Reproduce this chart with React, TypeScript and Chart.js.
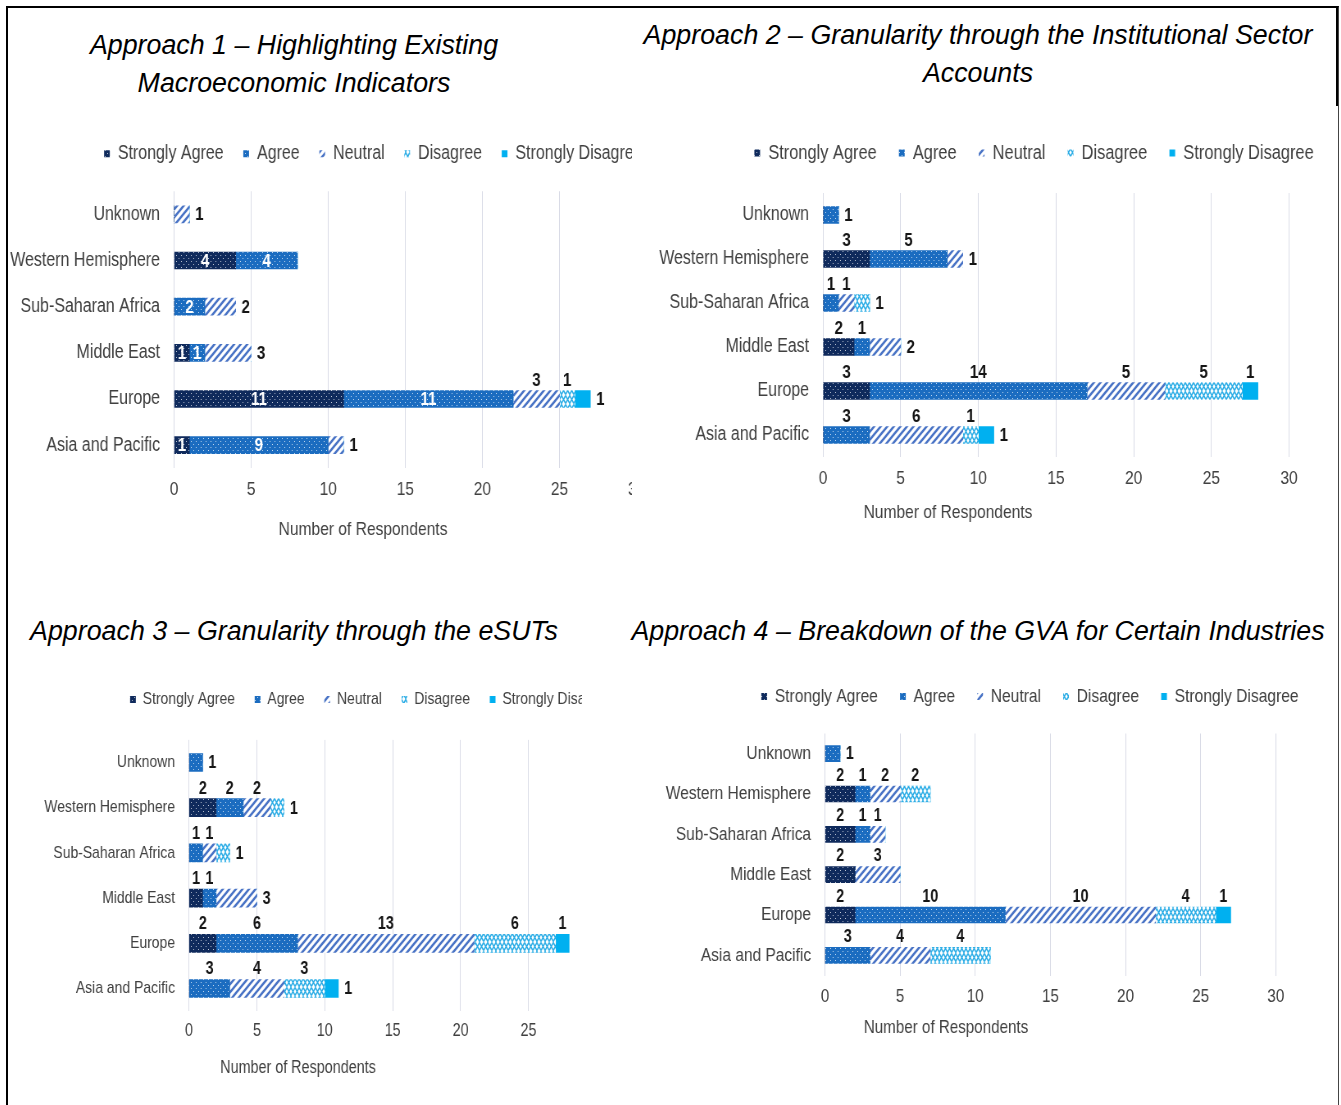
import React, { useEffect, useRef } from "react";
import { Chart, registerables } from "chart.js";
Chart.register(...registerables);

const FONT = "'Liberation Sans', Arial, sans-serif";
// the chart texts use a narrow face; Arial Narrow is emulated by drawing each chart
// canvas wider and showing it horizontally condensed by this factor
const S = 0.82;

// ---------- data ----------
const categories = ["Unknown", "Western Hemisphere", "Sub-Saharan Africa", "Middle East", "Europe", "Asia and Pacific"];
const seriesNames = ["Strongly Agree", "Agree", "Neutral", "Disagree", "Strongly Disagree"];
const xTickStep = 5;
const xMax = 30;
const axisTitle = "Number of Respondents";

// Approach 1
const a1StronglyAgree = [0, 4, 0, 1, 11, 1];
const a1Agree = [0, 4, 2, 1, 11, 9];
const a1Neutral = [1, 0, 2, 3, 3, 1];
const a1Disagree = [0, 0, 0, 0, 1, 0];
const a1StronglyDisagree = [0, 0, 0, 0, 1, 0];

// Approach 2
const a2StronglyAgree = [0, 3, 0, 2, 3, 0];
const a2Agree = [1, 5, 1, 1, 14, 3];
const a2Neutral = [0, 1, 1, 2, 5, 6];
const a2Disagree = [0, 0, 1, 0, 5, 1];
const a2StronglyDisagree = [0, 0, 0, 0, 1, 1];

// Approach 3
const a3StronglyAgree = [0, 2, 0, 1, 2, 0];
const a3Agree = [1, 2, 1, 1, 6, 3];
const a3Neutral = [0, 2, 1, 3, 13, 4];
const a3Disagree = [0, 1, 1, 0, 6, 3];
const a3StronglyDisagree = [0, 0, 0, 0, 1, 1];

// Approach 4
const a4StronglyAgree = [0, 2, 2, 2, 2, 0];
const a4Agree = [1, 1, 1, 0, 10, 3];
const a4Neutral = [0, 2, 1, 3, 10, 4];
const a4Disagree = [0, 2, 0, 0, 4, 4];
const a4StronglyDisagree = [0, 0, 0, 0, 1, 0];

const titles = [
  ["Approach 1 \u2013 Highlighting Existing", "Macroeconomic Indicators"],
  ["Approach 2 \u2013 Granularity through the Institutional Sector", "Accounts"],
  ["Approach 3 \u2013 Granularity through the eSUTs"],
  ["Approach 4 \u2013 Breakdown of the GVA for Certain Industries"],
];

// ---------- patterns ----------
function tile(w: number, h: number, draw: (g: CanvasRenderingContext2D) => void) {
  const c = document.createElement("canvas");
  c.width = w;
  c.height = h;
  const g = c.getContext("2d")!;
  draw(g);
  return g.createPattern(c, "repeat")!;
}
function dots(bg: string) {
  return tile(6, 6, (g) => {
    g.fillStyle = bg;
    g.fillRect(0, 0, 6, 6);
    g.fillStyle = "rgba(255,255,255,0.75)";
    g.fillRect(1, 1, 1, 1);
    g.fillRect(4, 4, 1, 1);
  });
}
function stripes(col: string) {
  const s = 8;
  return tile(s, s, (g) => {
    g.fillStyle = "#ffffff";
    g.fillRect(0, 0, s, s);
    g.strokeStyle = col;
    g.lineWidth = 2.6;
    g.beginPath();
    g.moveTo(-1, s + 1);
    g.lineTo(s + 1, -1);
    g.moveTo(-1, 1);
    g.lineTo(1, -1);
    g.moveTo(s - 1, s + 1);
    g.lineTo(s + 1, s - 1);
    g.stroke();
  });
}
function zigzag(col: string) {
  return tile(10, 9, (g) => {
    g.fillStyle = "#ffffff";
    g.fillRect(0, 0, 10, 9);
    g.strokeStyle = col;
    g.lineWidth = 1.5;
    g.beginPath();
    g.moveTo(0, 0.5);
    g.lineTo(5, 8.5);
    g.lineTo(10, 0.5);
    g.moveTo(0, 8.5);
    g.lineTo(5, 0.5);
    g.lineTo(10, 8.5);
    g.stroke();
  });
}

// ---------- plugins ----------
const captionPlugin = {
  id: "caption",
  afterDraw(chart: any, _a: any, opts: any) {
    if (!opts || !opts.text) return;
    const ctx = chart.ctx;
    ctx.save();
    ctx.font = `${opts.size}px ${FONT}`;
    ctx.fillStyle = opts.color;
    ctx.textAlign = "center";
    ctx.textBaseline = "middle";
    ctx.fillText(opts.text, opts.x, opts.y);
    ctx.restore();
  },
};

const segLabelsPlugin = {
  id: "segLabels",
  afterDatasetsDraw(chart: any, _a: any, opts: any) {
    const ctx = chart.ctx;
    const dsets = chart.data.datasets;
    const n = chart.data.labels.length;
    ctx.save();
    ctx.font = `bold ${opts.size}px ${FONT}`;
    ctx.textBaseline = "middle";
    for (let j = 0; j < n; j++) {
      const vals: number[] = dsets.map((d: any) => d.data[j] as number);
      const nonzero = vals.map((v, i) => (v > 0 ? i : -1)).filter((i) => i >= 0);
      const lastIdx = nonzero[nonzero.length - 1];
      const total = vals.reduce((a, b) => a + b, 0);
      let rightOk = true;
      if (opts.lastRule === "short") rightOk = total < 20;
      if (opts.lastRule === "single") rightOk = nonzero.length === 1;
      nonzero.forEach((i) => {
        const el = chart.getDatasetMeta(i).data[j];
        const { x, y, base, height } = el.getProps(["x", "y", "base", "height"], true);
        const text = String(vals[i]);
        if (opts.inside && opts.inside.includes(i)) {
          ctx.fillStyle = "#ffffff";
          ctx.textAlign = "center";
          ctx.fillText(text, (x + base) / 2, y + 1);
        } else if (i === lastIdx && rightOk) {
          ctx.fillStyle = "#151515";
          ctx.textAlign = "left";
          ctx.fillText(text, x + 7, y + 1);
        } else {
          ctx.fillStyle = "#151515";
          ctx.textAlign = "center";
          ctx.fillText(text, (x + base) / 2, y - height / 2 - 10);
        }
      });
    }
    ctx.restore();
  },
};

// ---------- layout (page pixels) ----------
type Layout = {
  clip: { l: number; t: number; w: number; h: number };
  cx: number;
  legendCX: number;
  legendCY: number;
  chartL: number;
  chartR: number;
  chartT: number;
  chartB: number;
  capX: number;
  capY: number;
  legendFont: number;
  legendPad: number;
  catFont: number;
  tickFont: number;
  labelFont: number;
  bar: number;
  xH: number;
  inside?: number[];
  lastRule: string;
};

function build(L: Layout) {
  const Wp = 2 * (L.legendCX - L.cx);
  const pT = 4;
  const cy = L.legendCY - L.legendPad - L.legendFont / 2 - pT;
  const legendH = L.legendFont + L.legendPad + 10;
  const gap = L.chartT - cy - pT - legendH;
  const H = Math.round(L.chartB + L.xH + 60 - cy);
  return {
    ...L,
    cy,
    W: Math.round(Wp / S),
    H,
    pT,
    gap,
    yW: (L.chartL - L.cx) / S,
    rW: (L.cx + Wp - L.chartR) / S,
    capXi: (L.capX - L.cx) / S,
    capYi: L.capY - cy,
    pB: H - (L.chartB - cy) - L.xH,
  };
}

function Panel({ series, L }: { series: number[][]; L: Layout }) {
  const ref = useRef<HTMLCanvasElement>(null);
  const c = build(L);
  useEffect(() => {
    const ctx = ref.current!.getContext("2d")!;
    const fills = [dots("#0f2a5c"), dots("#1b6cc0"), stripes("#4a74c6"), zigzag("#2eaee6"), "#00b0f0"];
    const chart = new Chart(ctx, {
      type: "bar",
      data: {
        labels: categories,
        datasets: seriesNames.map((name, i) => ({
          label: name,
          data: series[i],
          backgroundColor: fills[i] as any,
          borderWidth: 0,
          barThickness: c.bar,
          xAxisID: "x",
          yAxisID: "y",
        })),
      },
      options: {
        indexAxis: "y",
        animation: false,
        responsive: false,
        devicePixelRatio: 1,
        layout: { padding: { left: 0, right: 0, top: c.pT, bottom: c.pB } },
        scales: {
          x: {
            type: "linear",
            position: "bottom",
            stacked: true,
            min: 0,
            max: xMax,
            ticks: { stepSize: xTickStep, color: "#404040", font: { family: FONT, size: c.tickFont }, padding: 10 },
            grid: { color: "#d9dbe6", drawTicks: false },
            border: { display: false },
            afterFit: (s: any) => {
              s.height = c.xH;
            },
          },
          xTop: {
            type: "linear",
            axis: "x",
            position: "top",
            display: true,
            ticks: { display: false },
            grid: { display: false, drawTicks: false },
            border: { display: false },
            afterFit: (s: any) => {
              s.height = c.gap;
            },
          },
          y: {
            type: "category",
            stacked: true,
            ticks: { color: "#404040", font: { family: FONT, size: c.catFont }, padding: 17 },
            grid: { display: false, drawTicks: false },
            border: { display: false },
            afterFit: (s: any) => {
              s.width = c.yW;
            },
          },
          yRight: {
            type: "linear",
            axis: "y",
            position: "right",
            display: true,
            ticks: { display: false },
            grid: { display: false, drawTicks: false },
            border: { display: false },
            afterFit: (s: any) => {
              s.width = c.rW;
            },
          },
        } as any,
        plugins: {
          legend: {
            display: true,
            position: "top",
            labels: {
              boxWidth: 7,
              boxHeight: 7,
              padding: c.legendPad,
              color: "#404040",
              font: { family: FONT, size: c.legendFont },
            },
          },
          tooltip: { enabled: false },
          caption: { text: axisTitle, x: c.capXi, y: c.capYi, size: c.tickFont, color: "#404040" },
          segLabels: { size: c.labelFont, inside: c.inside, lastRule: c.lastRule },
        } as any,
      },
      plugins: [captionPlugin, segLabelsPlugin],
    });
    return () => chart.destroy();
  }, []);
  return (
    <div style={{ position: "absolute", left: c.clip.l, top: c.clip.t, width: c.clip.w, height: c.clip.h, overflow: "hidden" }}>
      <canvas
        ref={ref}
        width={c.W}
        height={c.H}
        style={{
          position: "absolute",
          left: c.cx - c.clip.l,
          top: c.cy - c.clip.t,
          width: c.W,
          height: c.H,
          transform: `scaleX(${S})`,
          transformOrigin: "0 0",
        }}
      />
    </div>
  );
}

const L1: Layout = {
  clip: { l: 8, t: 100, w: 624, h: 470 },
  cx: 8, legendCX: 373.5, legendCY: 153.5,
  chartL: 174, chartR: 637, chartT: 191, chartB: 468,
  capX: 363, capY: 530,
  legendFont: 19.5, legendPad: 24, catFont: 19.5, tickFont: 19, labelFont: 18.5, bar: 17, xH: 32,
  inside: [0, 1], lastRule: "always",
};
const L2: Layout = {
  clip: { l: 640, t: 100, w: 697, h: 470 },
  cx: 640, legendCX: 1034, legendCY: 153,
  chartL: 823, chartR: 1289, chartT: 193, chartB: 457,
  capX: 948, capY: 513,
  legendFont: 20, legendPad: 27, catFont: 19.5, tickFont: 19, labelFont: 18.5, bar: 17, xH: 32,
  lastRule: "short",
};
const L3: Layout = {
  clip: { l: 8, t: 650, w: 574, h: 450 },
  cx: 8, legendCX: 371.5, legendCY: 699,
  chartL: 189, chartR: 596, chartT: 739.4, chartB: 1010.6,
  capX: 298, capY: 1068,
  legendFont: 17, legendPad: 24, catFont: 17, tickFont: 17.5, labelFont: 17.5, bar: 18, xH: 30,
  lastRule: "short",
};
const L4: Layout = {
  clip: { l: 640, t: 645, w: 697, h: 455 },
  cx: 640, legendCX: 1030, legendCY: 696,
  chartL: 825, chartR: 1276, chartT: 733, chartB: 975,
  capX: 946, capY: 1027,
  legendFont: 19, legendPad: 27, catFont: 18.9, tickFont: 18.5, labelFont: 17.5, bar: 16, xH: 30,
  lastRule: "single",
};

function Title({ lines, cx, top }: { lines: string[]; cx: number; top: number }) {
  return (
    <div
      style={{
        position: "absolute",
        left: cx - 400,
        top,
        width: 800,
        textAlign: "center",
        fontFamily: FONT,
        fontStyle: "italic",
        fontSize: 26.8,
        lineHeight: "38px",
        color: "#000",
      }}
    >
      {lines.map((l, i) => (
        <div key={i}>{l}</div>
      ))}
    </div>
  );
}

export default function App() {
  return (
    <div style={{ position: "absolute", left: 0, top: 0, width: 1341, height: 1105, overflow: "hidden", background: "#fff" }}>
      <div
        style={{
          position: "absolute",
          left: 6,
          top: 6,
          width: 1330,
          height: 1200,
          borderLeft: "2px solid #000",
          borderTop: "2px solid #000",
          borderRight: "1px solid #444",
        }}
      />
      <div style={{ position: "absolute", left: 1336, top: 6, width: 2, height: 100, background: "#000" }} />
      <Title lines={titles[0]} cx={294} top={26} />
      <Title lines={titles[1]} cx={978} top={16} />
      <Title lines={titles[2]} cx={294} top={612} />
      <Title lines={titles[3]} cx={978} top={612} />
      <Panel series={[a1StronglyAgree, a1Agree, a1Neutral, a1Disagree, a1StronglyDisagree]} L={L1} />
      <Panel series={[a2StronglyAgree, a2Agree, a2Neutral, a2Disagree, a2StronglyDisagree]} L={L2} />
      <Panel series={[a3StronglyAgree, a3Agree, a3Neutral, a3Disagree, a3StronglyDisagree]} L={L3} />
      <Panel series={[a4StronglyAgree, a4Agree, a4Neutral, a4Disagree, a4StronglyDisagree]} L={L4} />
    </div>
  );
}
